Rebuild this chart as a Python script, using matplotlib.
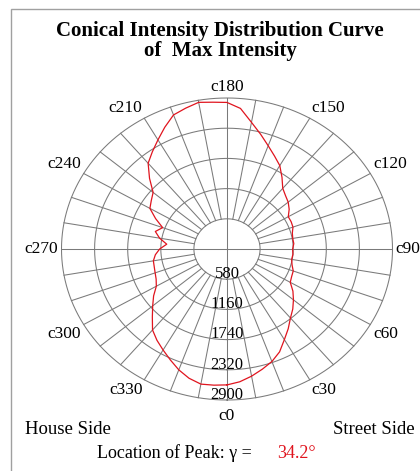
import numpy as np
import matplotlib
matplotlib.use('Agg')
import matplotlib.pyplot as plt
from matplotlib.patches import Rectangle

plt.rcParams['font.family'] = ['Liberation Serif', 'DejaVu Serif']

# ---- data ----
title_line1 = "Conical Intensity Distribution Curve"
title_line2 = "of  Max Intensity"
label_angles = [0, 30, 60, 90, 120, 150, 180, 210, 240, 270, 300, 330]
angle_labels = ["c0", "c30", "c60", "c90", "c120", "c150",
                "c180", "c210", "c240", "c270", "c300", "c330"]
ring_values = [580, 1160, 1740, 2320, 2900]
ring_labels = ["580", "1160", "1740", "2320", "2900"]
spoke_angles = list(range(0, 360, 10))

curve_angles = [0, 5, 10, 15, 20, 25, 30, 35, 40, 45, 50, 55, 60, 65, 70, 75,
                80, 85, 90, 95, 100, 105, 110, 115, 120, 125, 130, 135, 140,
                145, 150, 155, 160, 165, 170, 175, 180, 185, 190, 195, 200,
                205, 210, 215, 220, 225, 230, 235, 240, 245, 250, 255, 260,
                265, 270, 275, 280, 285, 290, 295, 300, 305, 310, 315, 320,
                325, 330, 335, 340, 345, 350, 355]
curve_values = [2610, 2560, 2480, 2390, 2300, 2180, 2010, 1870, 1730, 1630,
                1520, 1410, 1280, 1250, 1235, 1180, 1150, 1160, 1150, 1175,
                1170, 1185, 1230, 1240, 1240, 1330, 1400, 1450, 1520, 1680,
                1850, 1970, 2110, 2280, 2470, 2710, 2815, 2830, 2860, 2800,
                2740, 2580, 2420, 2280, 2150, 1920, 1690, 1620, 1560, 1380,
                1200, 1300, 1200, 1060, 1180, 1260, 1310, 1320, 1340, 1370,
                1430, 1570, 1700, 1850, 2030, 2140, 2240, 2350, 2470, 2570,
                2635, 2625]

side_left = "House Side"
side_right = "Street Side"
peak_prefix = "Location of Peak: γ ="
peak_value = "34.2°"

# ---- figure ----
W, H = 420, 471
fig = plt.figure(figsize=(W / 100, H / 100), dpi=100)
fig.patch.set_facecolor('white')

# outer frame (partially visible)
fig.add_artist(Rectangle((11 / W, -0.2), 1.5, 1 - 9 / H + 0.2,
                         transform=fig.transFigure, fill=False,
                         edgecolor='#a0a0a0', lw=1.0))

cx, cy = 227, 249
rx, ry = 165.5, 151
ax = fig.add_axes([(cx - rx) / W, 1 - (cy + ry) / H, 2 * rx / W, 2 * ry / H],
                  projection='polar')
ax.set_aspect('auto')
ax.set_theta_zero_location('S')
ax.set_theta_direction(1)
ax.set_ylim(0, ring_values[-1])
ax.grid(False)
ax.set_xticks([])
ax.set_yticks([])
ax.spines['polar'].set_visible(False)
ax.patch.set_visible(False)

gridc = '#7a7a7a'
th = np.linspace(0, 2 * np.pi, 721)
for v in ring_values:
    ax.plot(th, np.full_like(th, v), color=gridc, lw=0.75, clip_on=False)
for a in spoke_angles:
    r0 = 0 if a % 90 == 0 else ring_values[0]
    ax.plot([np.deg2rad(a)] * 2, [r0, ring_values[-1]], color=gridc,
            lw=0.75, clip_on=False)

ang = np.deg2rad(curve_angles + [curve_angles[0]])
val = curve_values + [curve_values[0]]
ax.plot(ang, val, color='#e0141e', lw=0.9, clip_on=False)

for a, lab in zip(label_angles, angle_labels):
    t = np.deg2rad(a)
    s, c = np.sin(t), np.cos(t)
    ha = 'left' if s > 0.1 else ('right' if s < -0.1 else 'center')
    va = 'top' if c > 0.1 else ('bottom' if c < -0.1 else 'center')
    r = ring_values[-1] * (1.05 if a == 0 else 1.02)
    ax.text(t, r, lab, ha=ha, va=va, fontsize=12.5, clip_on=False)

for v, lab in zip(ring_values, ring_labels):
    ax.text(0, v - 100, lab, ha='center', va='center', fontsize=12,
            clip_on=False)

fig.text(220 / W, 1 - 31 / H, title_line1, ha='center', va='center',
         fontsize=15, fontweight='bold')
fig.text(220 / W, 1 - 51 / H, title_line2, ha='center', va='center',
         fontsize=15, fontweight='bold')

fig.text(25 / W, 1 - 430 / H, side_left, ha='left', va='center', fontsize=13.5)
fig.text(415 / W, 1 - 430 / H, side_right, ha='right', va='center',
         fontsize=13.5)
fig.text(252 / W, 1 - 453 / H, peak_prefix, ha='right', va='center',
         fontsize=13)
fig.text(277 / W, 1 - 453 / H, peak_value, ha='left', va='center',
         fontsize=13, color='#e0141e')

fig.savefig('out.png', dpi=100)
